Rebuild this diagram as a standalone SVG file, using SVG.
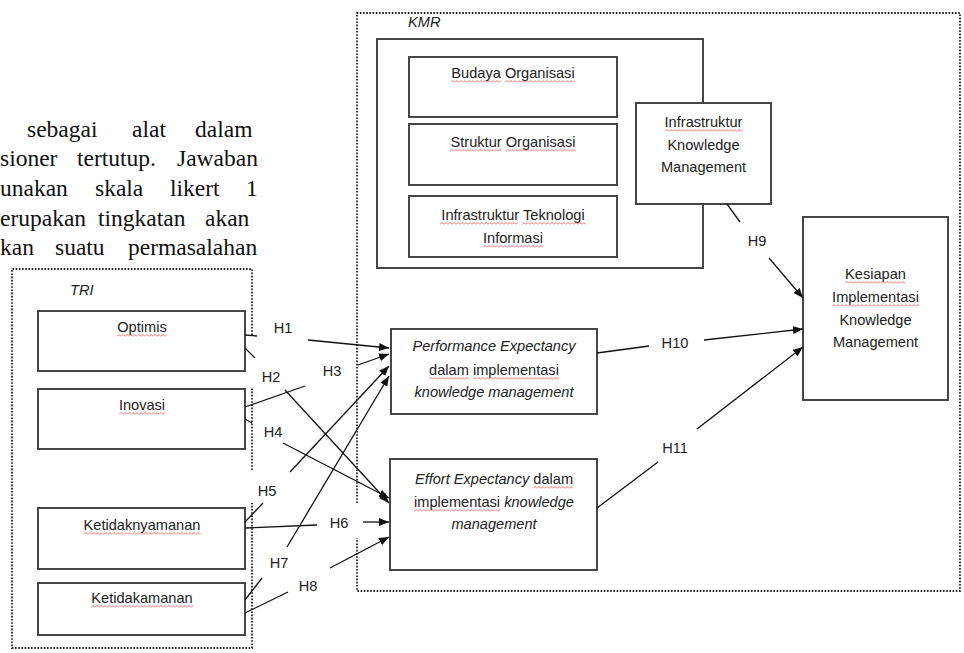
<svg xmlns="http://www.w3.org/2000/svg" width="964" height="653" viewBox="0 0 964 653">
<defs>
<marker id="arr" viewBox="0 0 10 8" refX="10" refY="4" markerWidth="10" markerHeight="8" markerUnits="userSpaceOnUse" orient="auto"><path d="M0,0 L10,4 L0,8 z" fill="#111"/></marker>
<pattern id="wavy" patternUnits="userSpaceOnUse" width="4" height="3"><path d="M0,2.5 L2,0.5 L4,2.5" fill="none" stroke="#e03030" stroke-width="0.7"/></pattern>
</defs>
<style>
.para{font-family:"Liberation Serif","Times New Roman",serif;font-size:23.5px;fill:#111}
.t{font-family:"Liberation Sans",Arial,sans-serif;font-size:14.6px;fill:#222}
.c{text-anchor:middle}
.i{font-style:italic}
.box{fill:#fff;stroke:#333;stroke-width:1.8}
.dot{fill:none;stroke:#222;stroke-width:1.8;stroke-dasharray:1.6 1.6}
.ln{fill:none;stroke:#111;stroke-width:1.3}
.ar{fill:none;stroke:#111;stroke-width:1.3;marker-end:url(#arr)}
.w{fill:url(#wavy)}
</style>
<rect width="964" height="653" fill="#fff"/>

<g id="paragraph">
<text class="para" y="137"><tspan x="27">sebagai</tspan><tspan x="132">alat</tspan><tspan x="195">dalam</tspan></text>
<text class="para" y="166"><tspan x="0">sioner</tspan><tspan x="77">tertutup.</tspan><tspan x="177">Jawaban</tspan></text>
<text class="para" y="196"><tspan x="0">unakan</tspan><tspan x="95">skala</tspan><tspan x="170">likert</tspan><tspan x="246">1</tspan></text>
<text class="para" y="226"><tspan x="0">erupakan</tspan><tspan x="98">tingkatan</tspan><tspan x="205">akan</tspan></text>
<text class="para" y="255"><tspan x="0">kan</tspan><tspan x="55">suatu</tspan><tspan x="128">permasalahan</tspan></text>
</g>

<g id="TRI">
<path class="dot" d="M252,335 V269 H12 V648 H252 V503 M252,470 V388"/>
<text class="t i" x="70" y="295">TRI</text>
</g>

<g id="KMR">
<path class="dot" d="M357,503 V13 H960 V591 H357 V538"/>
<text class="t i" x="408" y="27">KMR</text>
<rect class="box" x="377" y="39" width="326" height="229"/>
</g>

<g id="optimis">
<rect class="box" x="38" y="311" width="207" height="60"/>
<text class="t c" x="142" y="332">Optimis</text>
<rect class="w" transform="translate(117,334)" width="50" height="3"/>
</g>
<g id="inovasi">
<rect class="box" x="38" y="389" width="207" height="60"/>
<text class="t c" x="142" y="410">Inovasi</text>
<rect class="w" transform="translate(119,412)" width="46" height="3"/>
</g>
<g id="ketidaknyamanan">
<rect class="box" x="38" y="508" width="207" height="61"/>
<text class="t c" x="142" y="530">Ketidaknyamanan</text>
<rect class="w" transform="translate(84,532)" width="117" height="3"/>
</g>
<g id="ketidakamanan">
<rect class="box" x="38" y="583" width="207" height="52"/>
<text class="t c" x="142" y="603">Ketidakamanan</text>
<rect class="w" transform="translate(91,605)" width="102" height="3"/>
</g>

<g id="budaya">
<rect class="box" x="409" y="57" width="208" height="60"/>
<text class="t c" x="513" y="78">Budaya Organisasi</text>
<rect class="w" transform="translate(451,80)" width="50" height="3"/>
<rect class="w" transform="translate(505,80)" width="70" height="3"/>
</g>
<g id="struktur">
<rect class="box" x="409" y="124" width="208" height="61"/>
<text class="t c" x="513" y="147">Struktur Organisasi</text>
<rect class="w" transform="translate(450,149)" width="51" height="3"/>
<rect class="w" transform="translate(506,149)" width="70" height="3"/>
</g>
<g id="infraTI">
<rect class="box" x="409" y="196" width="208" height="61"/>
<text class="t c" x="513" y="220">Infrastruktur Teknologi</text>
<text class="t c" x="513" y="243">Informasi</text>
<rect class="w" transform="translate(440,222)" width="78" height="3"/>
<rect class="w" transform="translate(522,222)" width="64" height="3"/>
<rect class="w" transform="translate(483,245)" width="60" height="3"/>
</g>
<g id="infraKM">
<rect class="box" x="636" y="103" width="135" height="101"/>
<text class="t c" x="703.5" y="127">Infrastruktur</text>
<text class="t c" x="703.5" y="150">Knowledge</text>
<text class="t c" x="703.5" y="172">Management</text>
<rect class="w" transform="translate(665,129)" width="78" height="3"/>
</g>
<g id="kesiapan">
<rect class="box" x="803" y="217" width="145" height="183"/>
<text class="t c" x="875.5" y="279">Kesiapan</text>
<text class="t c" x="875.5" y="302">Implementasi</text>
<text class="t c" x="875.5" y="325">Knowledge</text>
<text class="t c" x="875.5" y="347">Management</text>
<rect class="w" transform="translate(845,281)" width="61" height="3"/>
<rect class="w" transform="translate(832,304)" width="87" height="3"/>
</g>
<g id="performance">
<rect class="box" x="391" y="329" width="206" height="85"/>
<text class="t c i" x="494" y="351">Performance Expectancy</text>
<text class="t c" x="494" y="375">dalam implementasi</text>
<text class="t c i" x="494" y="397">knowledge management</text>
<rect class="w" transform="translate(429,377)" width="40" height="3"/>
<rect class="w" transform="translate(473,377)" width="86" height="3"/>
</g>
<g id="effort">
<rect class="box" x="390" y="459" width="207" height="111"/>
<text class="t c" x="494" y="484"><tspan class="i">Effort Expectancy </tspan>dalam</text>
<text class="t c" x="494" y="507">implementasi <tspan class="i">knowledge</tspan></text>
<text class="t c i" x="494" y="529">management</text>
<rect class="w" transform="translate(533,486)" width="40" height="3"/>
<rect class="w" transform="translate(414,509)" width="86" height="3"/>
</g>

<g id="connectors">
<path class="ln" d="M245,335 L257,336"/><path class="ar" d="M308,340 L389,348"/>
<path class="ln" d="M245,348 L255,358"/><path class="ar" d="M285,390 L389,503"/>
<path class="ln" d="M245,407 L305,386"/><path class="ar" d="M358,365 L389,354"/>
<path class="ln" d="M245,419 L252,423"/><path class="ar" d="M283,443 L389,498"/>
<path class="ln" d="M245,522 L263,503"/><path class="ar" d="M290,472 L389,366"/>
<path class="ln" d="M245,528 L317,525"/><path class="ar" d="M363,522 L389,522"/>
<path class="ln" d="M245,600 L262,578"/><path class="ar" d="M287,547 L389,376"/>
<path class="ln" d="M245,613 L288,592"/><path class="ar" d="M330,568 L389,537"/>
<path class="ln" d="M727,204 L740,222"/><path class="ar" d="M769,258 L803,298"/>
<path class="ln" d="M597,353 L649,346"/><path class="ar" d="M704,340 L803,329"/>
<path class="ln" d="M597,508 L658,462"/><path class="ar" d="M697,429 L803,347"/>
<g class="t c">
<text x="283" y="333">H1</text>
<text x="271" y="382">H2</text>
<text x="332" y="376">H3</text>
<text x="273" y="437">H4</text>
<text x="267" y="496">H5</text>
<text x="339" y="528">H6</text>
<text x="279" y="568">H7</text>
<text x="308" y="591">H8</text>
<text x="757" y="246">H9</text>
<text x="675" y="348">H10</text>
<text x="675" y="453">H11</text>
</g>
</g>
</svg>
